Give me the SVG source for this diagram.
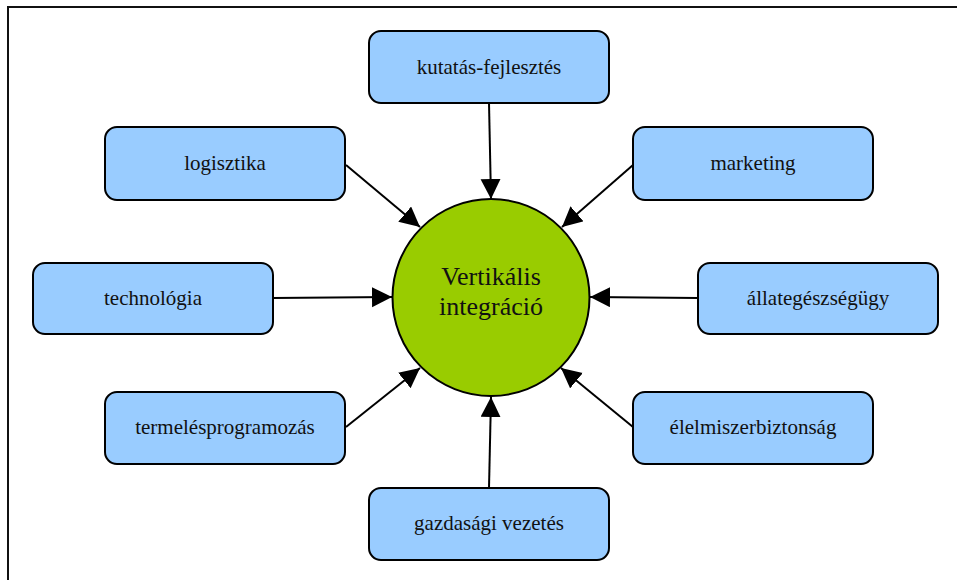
<svg xmlns="http://www.w3.org/2000/svg" width="957" height="580" viewBox="0 0 957 580">
<style>
.box{fill:#99CCFF;stroke:#000;stroke-width:2}
.lbl{font-family:"Liberation Serif","Times New Roman",serif;font-size:21px;fill:#111;text-anchor:middle}
.ctr{font-family:"Liberation Serif","Times New Roman",serif;font-size:26px;fill:#111;text-anchor:middle}
.conn line{stroke:#000;stroke-width:2;marker-end:url(#arr)}
</style>
<defs>
<marker id="arr" markerUnits="userSpaceOnUse" markerWidth="21" markerHeight="21" refX="20" refY="10" orient="auto">
<path d="M0,0 L20,10 L0,20 Z" fill="#000"/>
</marker>
</defs>
<rect width="957" height="580" fill="#fff"/>
<path d="M8,580 L8,7 L957,7" fill="none" stroke="#111" stroke-width="2"/>
<g class="conn" id="connectors">
<line x1="489" y1="103" x2="491" y2="199"/>
<line x1="489" y1="488" x2="491" y2="397"/>
<line x1="346" y1="165" x2="420" y2="227"/>
<line x1="633" y1="165" x2="562" y2="227"/>
<line x1="273" y1="298" x2="392" y2="297"/>
<line x1="698" y1="298" x2="590" y2="297"/>
<line x1="346" y1="427" x2="420" y2="368"/>
<line x1="633" y1="427" x2="561" y2="368"/>
</g>
<g id="center">
<circle cx="491" cy="297.5" r="98.5" fill="#99CC00" stroke="#000" stroke-width="2"/>
<text class="ctr" x="491" y="285">Vertikális</text>
<text class="ctr" x="491" y="315">integráció</text>
</g>
<g id="n-kutatas"><rect class="box" x="369" y="31" width="240" height="72" rx="12"/><text class="lbl" x="489" y="74">kutatás-fejlesztés</text></g>
<g id="n-logisztika"><rect class="box" x="105" y="127" width="240" height="73" rx="12"/><text class="lbl" x="225" y="170">logisztika</text></g>
<g id="n-marketing"><rect class="box" x="633" y="127" width="240" height="73" rx="12"/><text class="lbl" x="753" y="170">marketing</text></g>
<g id="n-technologia"><rect class="box" x="33" y="263" width="240" height="71" rx="12"/><text class="lbl" x="153" y="305">technológia</text></g>
<g id="n-allategeszsegugy"><rect class="box" x="698" y="263" width="240" height="71" rx="12"/><text class="lbl" x="818" y="305">állategészségügy</text></g>
<g id="n-termeles"><rect class="box" x="105" y="392" width="240" height="72" rx="12"/><text class="lbl" x="225" y="434">termelésprogramozás</text></g>
<g id="n-elelmiszer"><rect class="box" x="633" y="392" width="240" height="72" rx="12"/><text class="lbl" x="753" y="434">élelmiszerbiztonság</text></g>
<g id="n-gazdasagi"><rect class="box" x="369" y="488" width="240" height="72" rx="12"/><text class="lbl" x="489" y="530">gazdasági vezetés</text></g>
</svg>
